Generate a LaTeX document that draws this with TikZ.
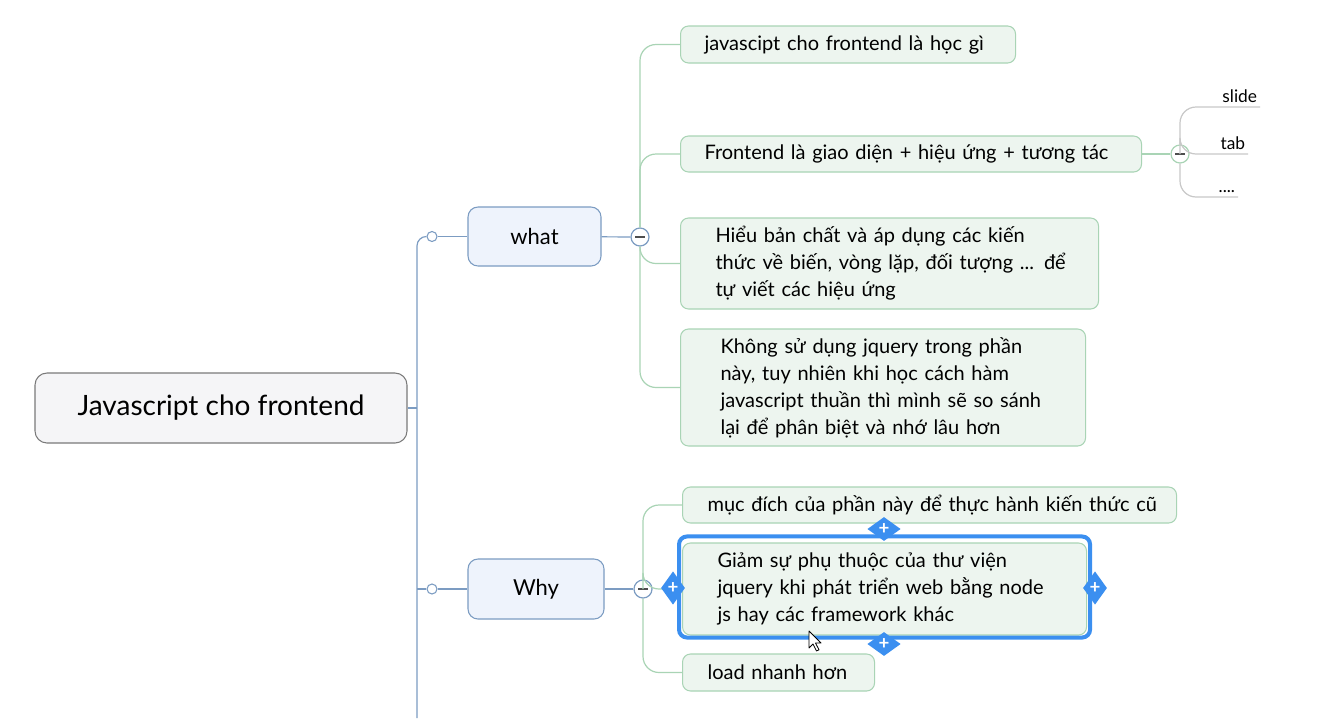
\documentclass[tikz,border=0pt]{standalone}
\usepackage{fontspec}
\setmainfont{Lato}
\usetikzlibrary{shapes.geometric}

\definecolor{ink}{HTML}{222222}
\definecolor{rootfill}{HTML}{F5F5F7}
\definecolor{rootline}{HTML}{7A7A7A}
\definecolor{topicfill}{HTML}{EEF3FC}
\definecolor{topicline}{HTML}{7C9CC2}
\definecolor{leaffill}{HTML}{EDF5EF}
\definecolor{leafline}{HTML}{A9D4B5}
\definecolor{twigline}{HTML}{C8C8C8}
\definecolor{pick}{HTML}{3B8FF0}

\tikzset{
    root/.style={draw=rootline, fill=rootfill, rounded corners=9pt, line width=0.8pt,
        minimum width=279pt, minimum height=52.5pt, font=\fontsize{21}{25}\selectfont},
    topic/.style={draw=topicline, fill=topicfill, rounded corners=7.5pt, line width=0.8pt,
        minimum height=44.25pt, font=\fontsize{16.5}{20}\selectfont},
    leaf/.style={draw=leafline, fill=leaffill, rounded corners=6pt, line width=0.8pt,
        anchor=west, align=left, inner ysep=0pt, font=\fontsize{15}{20.25}\selectfont},
    tip/.style={anchor=south east, inner xsep=2pt, inner ysep=3pt, text depth=0pt,
        font=\fontsize{13}{15}\selectfont},
    trunk/.style={draw=topicline, line width=0.9pt},
    branch/.style={draw=leafline, line width=0.9pt, rounded corners=12pt},
    twig/.style={draw=twigline, line width=0.9pt, rounded corners=12pt},
    knob/.style={circle, draw=topicline, fill=white, line width=0.8pt, minimum size=7.5pt, inner sep=0pt},
    fold/.style={circle, draw=#1, fill=white, line width=0.9pt, minimum size=13.5pt, inner sep=0pt,
        path picture={\draw[ink!80, line width=0.9pt]
            ([xshift=-3.5pt]path picture bounding box.center) -- ([xshift=3.5pt]path picture bounding box.center);}},
    grip/.style={diamond, fill=pick, inner sep=0pt, text=white, text depth=0pt,
        font=\bfseries\fontsize{14}{14}\selectfont},
    gripflat/.style={grip, aspect=1.5, minimum width=25pt, minimum height=18pt},
    gripside/.style={grip, aspect=0.67, minimum width=18pt, minimum height=25pt},
}

\begin{document}
\begin{tikzpicture}[x=0.75pt, y=-0.75pt, font=\color{ink}]
    \useasboundingbox[fill=white] (0,0) rectangle (1330,718);

    % chu de chinh
    \node[root] (root) at (221,408) {Javascript cho frontend};
    \coordinate (tail) at (417,718);

    \node[topic, minimum width=99.75pt] (what) at (534.5,236.5) {what};
    \node[topic, minimum width=102pt, minimum height=45pt] (why) at (536,589) {Why};

    \node[knob] (whatknob) at (432,236.5) {};
    \node[knob] (whyknob) at (432,589) {};
    \node[fold=topicline] (whatfold) at (640,237) {};
    \node[fold=topicline] (whyfold) at (643,589) {};

    % nhanh what
    \node[leaf, inner xsep=18pt, text width=215.25pt, minimum height=27.75pt] (c1) at (680,44.5)
        {\mbox{javascipt cho frontend là học gì}};
    \node[leaf, inner xsep=18pt, text width=309.75pt, minimum height=27pt] (c2) at (680,154)
        {\mbox{Frontend là giao diện + hiệu ứng + tương tác}};
    \node[leaf, inner xsep=26.25pt, text width=261pt, minimum height=68.25pt] (c3) at (680,263.5)
        {\mbox{Hiểu bản chất và áp dụng các kiến}\\\mbox{thức về biến, vòng lặp, đối tượng ... để}\\\mbox{tự viết các hiệu ứng}};
    \node[leaf, inner xsep=30pt, text width=243.75pt, minimum height=87.75pt] (c4) at (680,387.5)
        {\mbox{Không sử dụng jquery trong phần}\\\mbox{này, tuy nhiên khi học cách hàm}\\\mbox{javascript thuần thì mình sẽ so sánh}\\\mbox{lại để phân biệt và nhớ lâu hơn}};

    % nhanh why
    \node[leaf, inner xsep=18.75pt, text width=333pt, minimum height=27pt] (w1) at (682,505)
        {\mbox{mục đích của phần này để thực hành kiến thức cũ}};
    \node[leaf, inner xsep=26.25pt, text width=250.5pt, minimum height=69pt] (w2) at (682,589)
        {\mbox{Giảm sự phụ thuộc của thư viện}\\\mbox{jquery khi phát triển web bằng node}\\\mbox{js hay các framework khác}};
    \node[leaf, inner xsep=18.75pt, text width=106.5pt, minimum height=27.75pt] (w3) at (682,672.5)
        {\mbox{load nhanh hơn}};

    % nhanh con cua Frontend
    \node[fold=leafline] (c2fold) at (1180,154) {};
    \node[tip] (slide) at (1260,107) {slide};
    \node[tip] (tab) at (1248,154) {tab};
    \node[tip] (more) at (1238,197) {....};

    % duong noi
    \draw[trunk] (root.east) -- (root.east -| tail);
    \draw[trunk, rounded corners=7pt] (tail) |- (whatknob);
    \draw[trunk] (whyknob) -- (whyknob -| tail);
    \draw[trunk] (whatknob) -- (what);
    \draw[trunk] (whyknob) -- (why);
    \draw[trunk] (what) -- (whatfold);
    \draw[trunk] (why) -- (whyfold);

    \foreach \c in {c1,c2,c3,c4}
        \draw[branch] (whatfold) |- (\c.west);
    \foreach \c in {w1,w2,w3}
        \draw[branch] (whyfold) |- (\c.west);

    \draw[branch] (c2) -- (c2fold);
    \foreach \t in {slide,tab,more}
        \draw[twig] (c2fold) |- (\t.south east);

    % khung dang chon
    \draw[pick, line width=3pt, rounded corners=6pt]
        ([shift={(-3,-6)}]w2.north west) rectangle ([shift={(3,2)}]w2.south east);
    \node[gripflat] (gtop) at (884,529) {+};
    \node[gripflat] (gbot) at (884,644) {+};
    \node[gripside] (gleft) at (673,588) {+};
    \node[gripside] (gright) at (1095,588) {+};

    % con tro chuot
    \draw[fill=white, line width=0.6pt, line join=round]
        (809,631) -- ++(0,17) -- ++(4,-4) -- ++(3.5,7) -- ++(2.5,-1.2)
        -- ++(-3.5,-6.8) -- ++(5.5,0) -- cycle;
\end{tikzpicture}
\end{document}
